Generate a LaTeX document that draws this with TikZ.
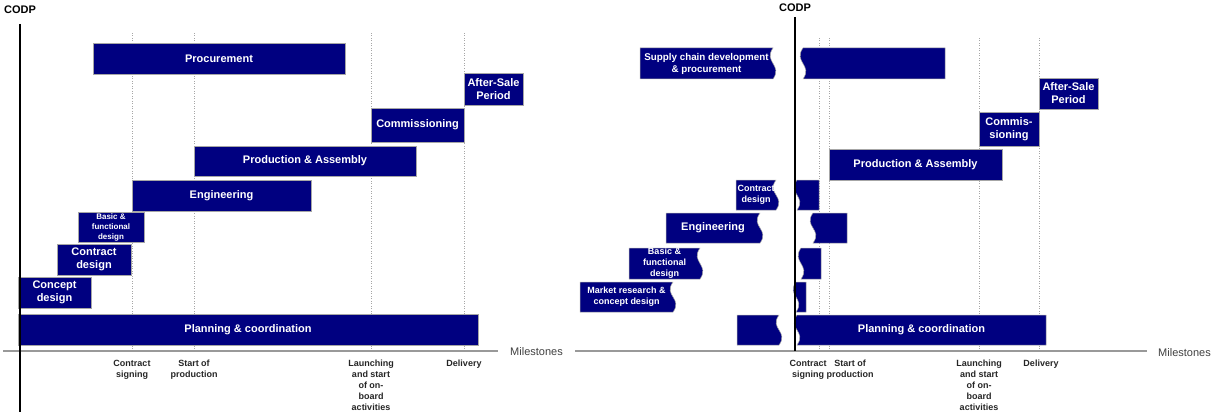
\documentclass[tikz,border=0pt]{standalone}
\usepackage{fontspec}
\setmainfont{Liberation Sans}
\usetikzlibrary{positioning,calc}
\definecolor{navy}{RGB}{0,0,128}

\tikzset{
  taskbar/.style={fill=navy, draw=black!35, line width=0.5pt, text=white,
    inner sep=0pt, outer sep=0pt, anchor=north west, align=center,
    font=\bfseries\fontsize{11}{13}\selectfont},
  tornbar/.style={fill=navy, draw=black!35, line width=0.5pt},
  bartext/.style={text=white, inner sep=0pt, align=center,
    font=\bfseries\fontsize{11}{13}\selectfont},
  smalltext/.style={font=\bfseries\fontsize{9}{11}\selectfont},
  tinytext/.style={font=\bfseries\fontsize{8}{10}\selectfont},
  mslabel/.style={anchor=north, inner sep=0pt, align=center, text=black!85,
    font=\bfseries\fontsize{9}{11}\selectfont},
  mstitle/.style={anchor=west, inner sep=0pt, text=black!75,
    font=\fontsize{11}{13}\selectfont},
  codplabel/.style={inner sep=0pt, font=\bfseries\fontsize{11}{13}\selectfont},
  axisline/.style={draw=black!40, line width=1.4pt},
  gridline/.style={draw=black!35, dotted, line width=0.5pt},
  codpline/.style={line width=2pt}
}

% bar cut off on the right (name, x1, y1, x2, y2, style, text)
\newcommand{\tornright}[7]{%
  \filldraw[tornbar] (#2,#3) -- (#4,#3)
    .. controls ({#4-10},{#3+0.45*(#5-#3)}) and ({#4+10},{#3+0.55*(#5-#3)}) .. (#4,#5)
    -- (#2,#5) -- cycle;
  \node[bartext,#6] (#1) at ({(#2+#4)/2},{(#3+#5)/2}) {#7};}
% bar cut off on the left
\newcommand{\tornleft}[7]{%
  \filldraw[tornbar] (#2,#3)
    .. controls ({#2-10},{#3+0.45*(#5-#3)}) and ({#2+10},{#3+0.55*(#5-#3)}) .. (#2,#5)
    -- (#4,#5) -- (#4,#3) -- cycle;
  \node[bartext,#6] (#1) at ({(#2+#4)/2},{(#3+#5)/2}) {#7};}

\begin{document}
\begin{tikzpicture}[x=1pt, y=-1pt]
  \useasboundingbox (0,0) rectangle (1213,412);

  % ---------------- left: engineer-to-order ----------------
  % milestones
  \foreach \x/\n in {132/cs,194/sp,371/la,464/de} {
    \coordinate (\n L) at (\x,351);
    \draw[gridline] (\n L) -- (\x,32);
  }
  \node[mslabel] (csLtxt) at (132,360) {Contract\\signing};
  \node[mslabel] (spLtxt) at (194,360) {Start of\\production};
  \node[mslabel] (laLtxt) at (371,360) {Launching\\and start\\of on-\\board\\activities};
  \node[mslabel] (deLtxt) at (464,360) {Delivery};

  % activities
  \node[taskbar, minimum width=252pt, minimum height=31pt] (procL) at (93,43) {Procurement};
  \node[taskbar, minimum width=59pt, minimum height=32pt] (asL) at (464,73) {After-Sale\\Period};
  \node[taskbar, minimum width=93pt, minimum height=34pt] (commL) at (371,108) {Commissioning};
  \node[taskbar, minimum width=222pt, minimum height=30pt] (prodL) at (194,146) {Production \& Assembly};
  \node[taskbar, minimum width=179pt, minimum height=31pt] (engL) at (132,180) {Engineering};
  \node[taskbar, tinytext, minimum width=66pt, minimum height=30pt] (bfL) at (78,212) {Basic \&\\functional\\design};
  \node[taskbar, minimum width=74pt, minimum height=31pt] (cdL) at (57,244) {Contract\\design};
  \node[taskbar, minimum width=73pt, minimum height=31pt] (concL) at (18,277) {Concept\\design};
  \node[taskbar, minimum width=460pt, minimum height=31pt] (planL) at (18,314) {Planning \& coordination};

  % axis and CODP
  \coordinate (axL0) at (3,351);
  \coordinate (axL1) at (498,351);
  \draw[axisline] (axL0) -- (axL1);
  \node[mstitle] (msL) at (510,352) {Milestones};
  \node[codplabel] (codpL) at (20,10) {CODP};
  \coordinate (codpLtop) at (20,24);
  \coordinate (codpLbot) at (20,412);
  \draw[codpline] (codpLtop) -- (codpLbot);

  % ---------------- right: with a moved CODP ----------------
  % milestones
  \foreach \x/\n in {819/cs,829/sp,979/la,1039/de} {
    \coordinate (\n R) at (\x,351);
    \draw[gridline] (\n R) -- (\x,37);
  }
  \node[mslabel] (csRtxt) at (808,360) {Contract\\signing};
  \node[mslabel] (spRtxt) at (850,360) {Start of\\production};
  \node[mslabel] (laRtxt) at (979,360) {Launching\\and start\\of on-\\board\\activities};
  \node[mslabel] (deRtxt) at (1041,360) {Delivery};

  % activities, split at the CODP
  \tornright{scdR1}{640}{48}{773}{79}{smalltext,font=\bfseries\fontsize{9.8}{12}\selectfont}{Supply chain development\\\& procurement}
  \tornleft{scdR2}{803}{48}{945}{79}{}{}
  \node[taskbar, minimum width=59pt, minimum height=31pt] (asR) at (1039,78) {After-Sale\\Period};
  \node[taskbar, minimum width=60pt, minimum height=34pt] (commR) at (979,112) {Commis-\\sioning};
  \node[taskbar, minimum width=173pt, minimum height=31pt] (prodR) at (829,149) {Production \& Assembly};
  \tornright{cdR1}{736}{180}{776}{210}{smalltext}{Contract\\design}
  \tornleft{cdR2}{797}{180}{819}{210}{}{}
  \tornright{engR1}{666}{213}{760}{243}{}{Engineering}
  \tornleft{engR2}{813}{213}{847}{243}{}{}
  \tornright{bfR1}{629}{248}{700}{279}{smalltext}{Basic \&\\functional\\design}
  \tornleft{bfR2}{801}{248}{821}{279}{}{}
  \tornright{mrR1}{580}{282}{673}{312}{smalltext}{Market research \&\\concept design}
  \tornleft{mrR2}{796}{282}{806}{312}{}{}
  \tornright{planR1}{737}{315}{779}{345}{}{}
  \tornleft{planR2}{797}{315}{1046}{345}{}{Planning \& coordination}

  % axis and CODP
  \coordinate (axR0) at (575,351);
  \coordinate (axR1) at (1147,351);
  \draw[axisline] (axR0) -- (axR1);
  \node[mstitle] (msR) at (1158,353) {Milestones};
  \node[codplabel] (codpR) at (795,8) {CODP};
  \coordinate (codpRtop) at (795,17);
  \coordinate (codpRbot) at (795,351);
  \draw[codpline] (codpRtop) -- (codpRbot);
\end{tikzpicture}
\end{document}
